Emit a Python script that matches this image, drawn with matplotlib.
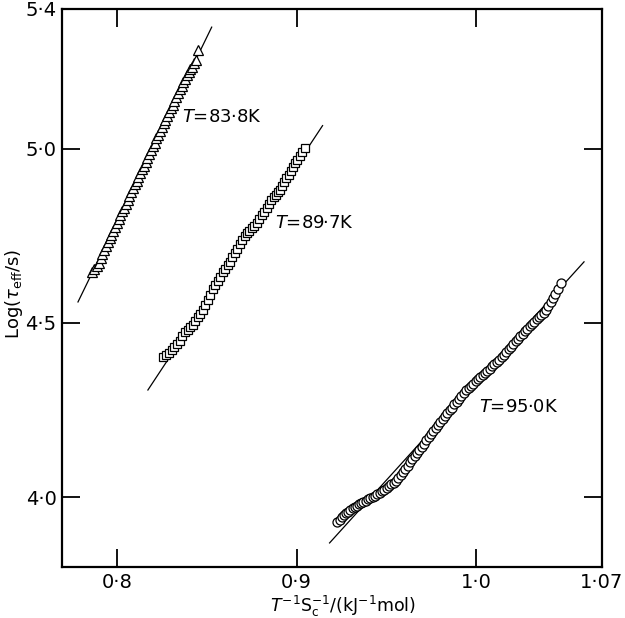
import numpy as np
import matplotlib
matplotlib.use('Agg')
import matplotlib.pyplot as plt

# T = 83.8 K (triangles)
x_838 = [0.7862, 0.7875, 0.7888, 0.7900, 0.7910, 0.7920, 0.7930, 0.7940, 0.7950, 0.7960,
         0.7970, 0.7980, 0.7990, 0.8000, 0.8010, 0.8020, 0.8030, 0.8040, 0.8050, 0.8060,
         0.8070, 0.8080, 0.8090, 0.8100, 0.8110, 0.8120, 0.8130, 0.8140, 0.8150, 0.8160,
         0.8170, 0.8180, 0.8190, 0.8200, 0.8210, 0.8220, 0.8230, 0.8240, 0.8250, 0.8260,
         0.8270, 0.8280, 0.8290, 0.8300, 0.8310, 0.8320, 0.8330, 0.8340, 0.8350, 0.8360,
         0.8370, 0.8380, 0.8390, 0.8400, 0.8410, 0.8420, 0.8430, 0.8440, 0.8451]
y_838 = [4.646, 4.655, 4.662, 4.672, 4.685, 4.697, 4.708, 4.719, 4.731, 4.742,
         4.752, 4.764, 4.775, 4.787, 4.797, 4.808, 4.820, 4.830, 4.841, 4.852,
         4.863, 4.874, 4.886, 4.897, 4.908, 4.918, 4.930, 4.940, 4.951, 4.962,
         4.974, 4.985, 4.996, 5.006, 5.017, 5.029, 5.040, 5.050, 5.062, 5.073,
         5.083, 5.094, 5.105, 5.116, 5.126, 5.137, 5.149, 5.159, 5.170, 5.180,
         5.191, 5.200, 5.210, 5.219, 5.227, 5.235, 5.244, 5.255, 5.282]
fit_838_x = [0.7784, 0.8528]
fit_838_y = [4.560, 5.348]

# T = 89.7 K (squares)
x_897 = [0.8256, 0.8272, 0.8290, 0.8306, 0.8320, 0.8335, 0.8351, 0.8365, 0.8380, 0.8394,
         0.8409, 0.8423, 0.8437, 0.8451, 0.8465, 0.8479, 0.8492, 0.8506, 0.8520, 0.8534,
         0.8548, 0.8562, 0.8576, 0.8590, 0.8603, 0.8616, 0.8628, 0.8642, 0.8656, 0.8670,
         0.8684, 0.8698, 0.8711, 0.8723, 0.8737, 0.8750, 0.8764, 0.8778, 0.8792, 0.8806,
         0.8820, 0.8834, 0.8848, 0.8860, 0.8872, 0.8884, 0.8896, 0.8908, 0.8920, 0.8932,
         0.8944, 0.8956, 0.8967, 0.8978, 0.8990, 0.9003, 0.9017, 0.9031, 0.9045]
y_897 = [4.402, 4.408, 4.414, 4.422, 4.432, 4.440, 4.448, 4.461, 4.474, 4.481,
         4.488, 4.494, 4.505, 4.516, 4.526, 4.537, 4.551, 4.566, 4.581, 4.596,
         4.608, 4.620, 4.632, 4.645, 4.655, 4.665, 4.675, 4.688, 4.701, 4.713,
         4.725, 4.737, 4.749, 4.758, 4.764, 4.771, 4.779, 4.786, 4.797, 4.808,
         4.819, 4.830, 4.842, 4.852, 4.861, 4.868, 4.875, 4.882, 4.892, 4.903,
         4.914, 4.925, 4.936, 4.947, 4.958, 4.968, 4.978, 4.989, 5.001]
fit_897_x = [0.8173, 0.9145]
fit_897_y = [4.3075, 5.0656]

# T = 95.0 K (circles)
x_950 = [0.9228, 0.9240, 0.9252, 0.9264, 0.9276, 0.9288, 0.9300, 0.9312, 0.9324, 0.9336,
         0.9348, 0.9360, 0.9372, 0.9385, 0.9398, 0.9411, 0.9424, 0.9437, 0.9450, 0.9462,
         0.9475, 0.9488, 0.9501, 0.9514, 0.9527, 0.9540, 0.9553, 0.9566, 0.9579, 0.9592,
         0.9605, 0.9618, 0.9631, 0.9644, 0.9657, 0.9670, 0.9683, 0.9696, 0.9709, 0.9722,
         0.9735, 0.9748, 0.9761, 0.9774, 0.9787, 0.9800, 0.9813, 0.9826, 0.9839, 0.9852,
         0.9865, 0.9878, 0.9891, 0.9904, 0.9917, 0.9930, 0.9945, 0.9958, 0.9971, 0.9984,
         0.9997, 1.0010, 1.0023, 1.0036, 1.0049, 1.0062, 1.0075, 1.0088, 1.0101, 1.0114,
         1.0128, 1.0141, 1.0154, 1.0167, 1.0180, 1.0193, 1.0206, 1.0219, 1.0232, 1.0245,
         1.0258, 1.0271, 1.0284, 1.0297, 1.0310, 1.0323, 1.0336, 1.0349, 1.0362, 1.0375,
         1.0389, 1.0402, 1.0415, 1.0428, 1.0441, 1.0454, 1.0473]
y_950 = [3.929, 3.936, 3.942, 3.948, 3.954, 3.959, 3.964, 3.968, 3.972, 3.976,
         3.980, 3.984, 3.987, 3.990, 3.994, 3.997, 4.001, 4.004, 4.008, 4.012,
         4.017, 4.022, 4.027, 4.032, 4.037, 4.042, 4.048, 4.055, 4.063, 4.072,
         4.081, 4.091, 4.100, 4.109, 4.118, 4.127, 4.136, 4.145, 4.154, 4.163,
         4.172, 4.181, 4.190, 4.199, 4.207, 4.216, 4.224, 4.233, 4.241, 4.249,
         4.257, 4.266, 4.274, 4.283, 4.291, 4.299, 4.308, 4.314, 4.320, 4.326,
         4.332, 4.338, 4.344, 4.350, 4.356, 4.363, 4.369, 4.375, 4.381, 4.387,
         4.394, 4.402, 4.409, 4.417, 4.424, 4.432, 4.439, 4.447, 4.454, 4.462,
         4.469, 4.476, 4.483, 4.490, 4.497, 4.503, 4.510, 4.516, 4.523, 4.529,
         4.537, 4.548, 4.560, 4.572, 4.584, 4.596, 4.614]
fit_950_x = [0.9184, 1.0600]
fit_950_y = [3.869, 4.675]

xticks = [0.8, 0.9, 1.0, 1.07]
xtick_labels = ['0·8', '0·9', '1·0', '1·07']
yticks = [4.0, 4.5, 5.0, 5.4]
ytick_labels = ['4·0', '4·5', '5·0', '5·4']

fig = plt.figure(figsize=(6.25, 6.18), dpi=100)
ax = fig.add_axes([62 / 625, 51 / 618, 540 / 625, 558 / 618])

series = [
    (x_838, y_838, fit_838_x, fit_838_y, '^', 6.5),
    (x_897, y_897, fit_897_x, fit_897_y, 's', 6),
    (x_950, y_950, fit_950_x, fit_950_y, 'o', 6.5),
]
for xs, ys, fx, fy, mk, ms in series:
    ax.plot(fx, fy, color='black', lw=0.9, zorder=2)
    ax.plot(xs, ys, linestyle='none', marker=mk, markersize=ms,
            markerfacecolor='white', markeredgecolor='black',
            markeredgewidth=0.9, zorder=3)

ax.text(0.8362, 5.090, '$T$=83·8K', fontsize=13, va='center', ha='left')
ax.text(0.8878, 4.786, '$T$=89·7K', fontsize=13, va='center', ha='left')
ax.text(1.0017, 4.259, '$T$=95·0K', fontsize=13, va='center', ha='left')

ax.set_xlim(0.7695, 1.07)
ax.set_ylim(3.8, 5.4)
ax.set_xticks(xticks)
ax.set_xticklabels(xtick_labels)
ax.set_yticks(yticks)
ax.set_yticklabels(ytick_labels)
ax.tick_params(direction='in', length=13, width=1.3, labelsize=14,
               top=True, right=True, pad=4)
# no tick marks at the axis ends
ax.xaxis.get_major_ticks()[-1].tick1line.set_visible(False)
ax.xaxis.get_major_ticks()[-1].tick2line.set_visible(False)
ax.yaxis.get_major_ticks()[-1].tick1line.set_visible(False)
ax.yaxis.get_major_ticks()[-1].tick2line.set_visible(False)

for s in ax.spines.values():
    s.set_linewidth(1.6)

ax.set_xlabel(r'$T^{-1}\mathrm{S_c^{-1}}$/(kJ$^{-1}$mol)', fontsize=12.5)
ax.xaxis.set_label_coords(0.52, -0.049)
ax.set_ylabel(r'Log($\tau_{\mathrm{eff}}$/s)', fontsize=13)
ax.yaxis.set_label_coords(-0.068, 0.49)

fig.savefig('out.png', dpi=100)
